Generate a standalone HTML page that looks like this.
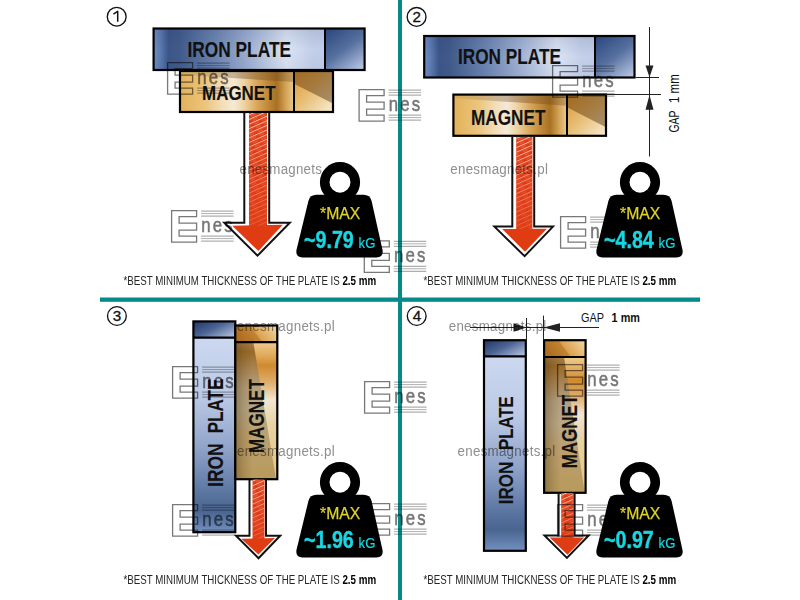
<!DOCTYPE html>
<html><head><meta charset="utf-8"><style>
html,body{margin:0;padding:0;background:#fff;width:800px;height:600px;overflow:hidden}
svg{display:block}
svg text{font-family:"Liberation Sans", sans-serif}
</style></head><body>
<svg width="800" height="600" viewBox="0 0 800 600">
<defs>
<linearGradient id="ipH" x1="0" y1="0" x2="1" y2="0">
<stop offset="0" stop-color="#7090c8"/><stop offset="0.035" stop-color="#5a78ae"/><stop offset="0.07" stop-color="#3c5688"/><stop offset="0.12" stop-color="#405a8a"/>
<stop offset="0.3" stop-color="#6e86b2"/><stop offset="0.45" stop-color="#9eb0d2"/><stop offset="0.63" stop-color="#dce4f3"/><stop offset="0.75" stop-color="#c4d0ea"/><stop offset="1" stop-color="#b8c8e6"/>
</linearGradient>
<linearGradient id="ipHv" x1="0" y1="0" x2="0" y2="1">
<stop offset="0" stop-color="#203060" stop-opacity="0.12"/><stop offset="0.5" stop-color="#203060" stop-opacity="0"/><stop offset="1" stop-color="#203060" stop-opacity="0.05"/>
</linearGradient>
<linearGradient id="ipR" x1="0.15" y1="0" x2="0.85" y2="1">
<stop offset="0" stop-color="#2e4a80"/><stop offset="0.5" stop-color="#56709f"/><stop offset="1" stop-color="#b4c2e0"/>
</linearGradient>
<linearGradient id="mgH" x1="0" y1="0" x2="1" y2="0">
<stop offset="0" stop-color="#e2b25a"/><stop offset="0.22" stop-color="#ecc47c"/><stop offset="0.36" stop-color="#f2dcb4"/><stop offset="0.47" stop-color="#f6ead6"/>
<stop offset="0.56" stop-color="#eed4a4"/><stop offset="0.66" stop-color="#dcac60"/><stop offset="0.76" stop-color="#c48c3c"/><stop offset="0.85" stop-color="#a87022"/><stop offset="0.93" stop-color="#d4a458"/><stop offset="1" stop-color="#e8ca8c"/>
</linearGradient>
<linearGradient id="mgBand" x1="0" y1="0" x2="1" y2="0">
<stop offset="0" stop-color="#705030" stop-opacity="0.08"/><stop offset="0.55" stop-color="#604020" stop-opacity="0.38"/><stop offset="1" stop-color="#604018" stop-opacity="0.3"/>
</linearGradient>
<linearGradient id="mgRl" x1="0" y1="0" x2="1" y2="1">
<stop offset="0" stop-color="#d89838"/><stop offset="0.5" stop-color="#e8c078"/><stop offset="1" stop-color="#f8ecd4"/>
</linearGradient>
<linearGradient id="mgRu" x1="0" y1="0" x2="1" y2="1">
<stop offset="0" stop-color="#a46a20"/><stop offset="0.5" stop-color="#a47c40"/><stop offset="1" stop-color="#a89070"/>
</linearGradient>
<linearGradient id="ipV" x1="0" y1="0" x2="0" y2="1">
<stop offset="0" stop-color="#d0dcf2"/><stop offset="0.35" stop-color="#bccae6"/><stop offset="0.6" stop-color="#90a4ca"/>
<stop offset="0.8" stop-color="#5e78a4"/><stop offset="0.9" stop-color="#48648f"/><stop offset="1" stop-color="#7490c0"/>
</linearGradient>
<linearGradient id="ipT" x1="0" y1="0.1" x2="1" y2="0.9">
<stop offset="0" stop-color="#233a6a"/><stop offset="0.45" stop-color="#4c6494"/><stop offset="1" stop-color="#b4c2e0"/>
</linearGradient>
<linearGradient id="mgVL" x1="0" y1="0" x2="0" y2="1">
<stop offset="0" stop-color="#b09a74"/><stop offset="0.1" stop-color="#a88050"/><stop offset="0.17" stop-color="#9a6a28"/><stop offset="0.28" stop-color="#a88452"/>
<stop offset="0.4" stop-color="#b4a080"/><stop offset="0.55" stop-color="#b8a888"/><stop offset="0.7" stop-color="#bca070"/><stop offset="1" stop-color="#b89a5c"/>
</linearGradient>
<linearGradient id="mgVR" x1="0" y1="0" x2="0" y2="1">
<stop offset="0" stop-color="#f0cc90"/><stop offset="0.1" stop-color="#e0a858"/><stop offset="0.17" stop-color="#d08a30"/><stop offset="0.3" stop-color="#e0b070"/>
<stop offset="0.42" stop-color="#f2e6d0"/><stop offset="0.6" stop-color="#e8d2a4"/><stop offset="1" stop-color="#e2c684"/>
</linearGradient>
<linearGradient id="mgVh" x1="0" y1="0" x2="1" y2="0">
<stop offset="0" stop-color="#463008" stop-opacity="0.35"/><stop offset="0.2" stop-color="#463008" stop-opacity="0.15"/><stop offset="0.4" stop-color="#463008" stop-opacity="0"/>
</linearGradient>
<linearGradient id="mgT" x1="0" y1="0.3" x2="1" y2="0">
<stop offset="0" stop-color="#b06e22"/><stop offset="0.38" stop-color="#c28432"/><stop offset="0.42" stop-color="#dca24e"/><stop offset="0.75" stop-color="#e8c080"/><stop offset="1" stop-color="#f2dcb0"/>
</linearGradient>
<pattern id="hatch" patternUnits="userSpaceOnUse" width="9" height="4.2" patternTransform="rotate(-24)">
<rect x="0" y="0" width="9" height="1.0" fill="#ffe4da" fill-opacity="0.8"/><rect x="2" y="2.3" width="5" height="0.6" fill="#ffe4da" fill-opacity="0.45"/>
</pattern>
<linearGradient id="hfade" x1="0" y1="0" x2="0" y2="1">
<stop offset="0" stop-color="#fff"/><stop offset="0.45" stop-color="#fff" stop-opacity="0.65"/><stop offset="1" stop-color="#fff" stop-opacity="0.25"/>
</linearGradient>
</defs>
<rect x="0" y="0" width="800" height="600" fill="#fff"/>
<rect x="398" y="0" width="4" height="600" fill="#058a8a"/>
<rect x="100" y="297.5" width="600" height="4.3" fill="#058a8a"/>
<rect x="153.6" y="28.5" width="211.00000000000003" height="41.5" fill="url(#ipH)"/>
<rect x="153.6" y="28.5" width="211.00000000000003" height="41.5" fill="url(#ipHv)"/>
<rect x="325" y="28.5" width="39.60000000000002" height="41.5" fill="url(#ipR)"/>
<rect x="153.6" y="28.5" width="211.00000000000003" height="41.5" fill="none" stroke="#000" stroke-width="2.2"/>
<line x1="325" y1="28.5" x2="325" y2="70" stroke="#000" stroke-width="2"/>
<text x="187.5" y="56.8" font-size="21.8" font-weight="bold" textLength="103.5" lengthAdjust="spacingAndGlyphs" fill="#111" stroke="#111" stroke-width="0.12">IRON PLATE</text>
<rect x="180" y="71" width="114" height="41" fill="url(#mgH)"/>
<path d="M180,71 L294,71 L294,82.07 L180,74.69 Z" fill="url(#mgBand)"/>
<rect x="294" y="71" width="39" height="41" fill="url(#mgRl)"/>
<path d="M294,71 L333,71 L333,103.39 L294,83.71 Z" fill="url(#mgRu)"/>
<rect x="180" y="71" width="153" height="41" fill="none" stroke="#000" stroke-width="2.2"/>
<line x1="294" y1="71" x2="294" y2="112" stroke="#000" stroke-width="2"/>
<text x="202" y="99.6" font-size="20.8" font-weight="bold" textLength="73.5" lengthAdjust="spacingAndGlyphs" fill="#111" stroke="#111" stroke-width="0.12">MAGNET</text>
<rect x="249" y="113" width="18" height="113.80000000000001" fill="#e03c14"/>
<path d="M232.2,225.8 L282.8,224.8 L258.4,251 Z" fill="#e03c14"/>
<rect x="249" y="113" width="18" height="112.80000000000001" fill="url(#hatch)" mask="url(#hm1)"/>
<mask id="hm1" maskUnits="userSpaceOnUse"><rect x="249" y="113" width="18" height="112.80000000000001" fill="url(#hfade)"/></mask>
<path d="M244.3,113 L244.3,222.7 L224.3,222.7 L257.5,255.7 L289.8,222.7 L269.2,222.7 L269.2,113" fill="none" stroke="#111" stroke-width="2" stroke-linejoin="miter"/>
<circle cx="116.7" cy="16.7" r="9.4" fill="none" stroke="#111" stroke-width="1.35"/>
<path d="M113.4,14.1 L116.10000000000001,12.299999999999999 L117.7,11.299999999999999 L117.7,21.7" fill="none" stroke="#111" stroke-width="1.5" stroke-linejoin="round"/>
<rect x="424.2" y="36" width="210.3" height="41.5" fill="url(#ipH)"/>
<rect x="424.2" y="36" width="210.3" height="41.5" fill="url(#ipHv)"/>
<rect x="595" y="36" width="39.5" height="41.5" fill="url(#ipR)"/>
<rect x="424.2" y="36" width="210.3" height="41.5" fill="none" stroke="#000" stroke-width="2.2"/>
<line x1="595" y1="36" x2="595" y2="77.5" stroke="#000" stroke-width="2"/>
<text x="458" y="64.0" font-size="21.8" font-weight="bold" textLength="103" lengthAdjust="spacingAndGlyphs" fill="#111" stroke="#111" stroke-width="0.12">IRON PLATE</text>
<rect x="453.4" y="94.6" width="113.60000000000002" height="41.20000000000002" fill="url(#mgH)"/>
<path d="M453.4,94.6 L567,94.6 L567,105.724 L453.4,98.30799999999999 Z" fill="url(#mgBand)"/>
<rect x="567" y="94.6" width="39" height="41.20000000000002" fill="url(#mgRl)"/>
<path d="M567,94.6 L606,94.6 L606,127.14800000000001 L567,107.372 Z" fill="url(#mgRu)"/>
<rect x="453.4" y="94.6" width="152.60000000000002" height="41.20000000000002" fill="none" stroke="#000" stroke-width="2.2"/>
<line x1="567" y1="94.6" x2="567" y2="135.8" stroke="#000" stroke-width="2"/>
<text x="471" y="124.9" font-size="22.3" font-weight="bold" textLength="74.5" lengthAdjust="spacingAndGlyphs" fill="#111" stroke="#111" stroke-width="0.12">MAGNET</text>
<rect x="516.2" y="137" width="16.199999999999932" height="93" fill="#e03c14"/>
<path d="M502.2,229 L546.9,228.8 L525,251.7 Z" fill="#e03c14"/>
<rect x="516.2" y="137" width="16.199999999999932" height="92" fill="url(#hatch)" mask="url(#hm2)"/>
<mask id="hm2" maskUnits="userSpaceOnUse"><rect x="516.2" y="137" width="16.199999999999932" height="92" fill="url(#hfade)"/></mask>
<path d="M512.3,137 L512.3,226.6 L494.4,226.6 L524.6,256.1 L553,226.6 L534.2,226.6 L534.2,137" fill="none" stroke="#111" stroke-width="2" stroke-linejoin="miter"/>
<circle cx="416.6" cy="16.9" r="9.4" fill="none" stroke="#111" stroke-width="1.35"/>
<text x="416.8" y="21.599999999999998" font-size="15.2" text-anchor="middle" fill="#111" stroke="#111" stroke-width="0.3">2</text>
<g stroke="#222" stroke-width="1">
<line x1="649.5" y1="27" x2="649.5" y2="156.5"/>
<line x1="635.5" y1="77.5" x2="659" y2="77.5"/>
<line x1="606" y1="94.5" x2="661" y2="94.5"/>
</g>
<path d="M645.5,65.5 L653.5,65.5 L649.5,77.3 Z" fill="#222"/>
<path d="M645.5,109.8 L653.5,109.8 L649.5,95 Z" fill="#222"/>
<text transform="translate(678.6,132.5) rotate(-90)" font-size="14" fill="#111"><tspan textLength="22" lengthAdjust="spacingAndGlyphs">GAP</tspan><tspan x="29.5" textLength="28.8" lengthAdjust="spacingAndGlyphs">1 mm</tspan></text>
<rect x="193.4" y="321.4" width="41.900000000000006" height="210.80000000000007" fill="url(#ipV)"/>
<rect x="193.4" y="321.4" width="41.900000000000006" height="16.30000000000001" fill="url(#ipT)"/>
<rect x="193.4" y="321.4" width="41.900000000000006" height="210.80000000000007" fill="none" stroke="#000" stroke-width="2.2"/>
<line x1="193.4" y1="337.7" x2="235.3" y2="337.7" stroke="#000" stroke-width="2.2"/>
<text transform="translate(222.6,486.9) rotate(-90)" font-size="21.6" font-weight="bold" textLength="43.4" lengthAdjust="spacingAndGlyphs" fill="#111" stroke="#111" stroke-width="0.12">IRON</text>
<text transform="translate(222.6,433.3) rotate(-90)" font-size="21.6" font-weight="bold" textLength="54.6" lengthAdjust="spacingAndGlyphs" fill="#111" stroke="#111" stroke-width="0.12">PLATE</text>
<rect x="235.3" y="325.5" width="42.0" height="153.7" fill="url(#mgVL)"/>
<rect x="235.3" y="325.5" width="42.0" height="153.7" fill="url(#mgVh)"/>
<path d="M253.36,342.2 L277.3,342.2 L277.3,479.2 L276.04,479.2 Z" fill="url(#mgVR)"/>
<rect x="235.3" y="325.5" width="42.0" height="16.69999999999999" fill="url(#mgT)"/>
<rect x="235.3" y="325.5" width="42.0" height="153.7" fill="none" stroke="#000" stroke-width="2.2"/>
<line x1="235.3" y1="342.2" x2="277.3" y2="342.2" stroke="#000" stroke-width="2.2"/>
<text transform="translate(264.4,453.1) rotate(-90)" font-size="21.2" font-weight="bold" textLength="73.9" lengthAdjust="spacingAndGlyphs" fill="#111" stroke="#111" stroke-width="0.12">MAGNET</text>
<rect x="252.5" y="479.4" width="12.0" height="60.30000000000007" fill="#e03c14"/>
<path d="M241.2,538.7 L275,538 L258.5,554.5 Z" fill="#e03c14"/>
<rect x="252.5" y="479.4" width="12.0" height="59.30000000000007" fill="url(#hatch)" mask="url(#hm3)"/>
<mask id="hm3" maskUnits="userSpaceOnUse"><rect x="252.5" y="479.4" width="12.0" height="59.30000000000007" fill="url(#hfade)"/></mask>
<path d="M249.5,479.4 L249.5,535.7 L236,535.7 L258.5,558.2 L280.2,535.7 L266,535.7 L266,479.4" fill="none" stroke="#111" stroke-width="2" stroke-linejoin="miter"/>
<circle cx="116.9" cy="316.0" r="9.4" fill="none" stroke="#111" stroke-width="1.35"/>
<text x="117.10000000000001" y="320.7" font-size="15.2" text-anchor="middle" fill="#111" stroke="#111" stroke-width="0.3">3</text>
<rect x="484" y="340.2" width="41.799999999999955" height="210.59999999999997" fill="url(#ipV)"/>
<rect x="484" y="340.2" width="41.799999999999955" height="16.100000000000023" fill="url(#ipT)"/>
<rect x="484" y="340.2" width="41.799999999999955" height="210.59999999999997" fill="none" stroke="#000" stroke-width="2.2"/>
<line x1="484" y1="356.3" x2="525.8" y2="356.3" stroke="#000" stroke-width="2.2"/>
<text transform="translate(513.1,504.3) rotate(-90)" font-size="21" font-weight="bold" textLength="42.6" lengthAdjust="spacingAndGlyphs" fill="#111" stroke="#111" stroke-width="0.12">IRON</text>
<text transform="translate(513.1,450.0) rotate(-90)" font-size="21" font-weight="bold" textLength="53.8" lengthAdjust="spacingAndGlyphs" fill="#111" stroke="#111" stroke-width="0.12">PLATE</text>
<rect x="544.1" y="340.2" width="41.5" height="152.60000000000002" fill="url(#mgVL)"/>
<rect x="544.1" y="340.2" width="41.5" height="152.60000000000002" fill="url(#mgVh)"/>
<path d="M564.02,357.0 L585.6,357.0 L585.6,492.8 L584.77,492.8 Z" fill="url(#mgVR)"/>
<rect x="544.1" y="340.2" width="41.5" height="16.80000000000001" fill="url(#mgT)"/>
<rect x="544.1" y="340.2" width="41.5" height="152.60000000000002" fill="none" stroke="#000" stroke-width="2.2"/>
<line x1="544.1" y1="357.0" x2="585.6" y2="357.0" stroke="#000" stroke-width="2.2"/>
<text transform="translate(576.8,468.3) rotate(-90)" font-size="21.2" font-weight="bold" textLength="73.5" lengthAdjust="spacingAndGlyphs" fill="#111" stroke="#111" stroke-width="0.12">MAGNET</text>
<rect x="561.2" y="493" width="12.399999999999977" height="45.39999999999998" fill="#e03c14"/>
<path d="M549.6,537.4 L584.2,537.4 L567.5,554.7 Z" fill="#e03c14"/>
<rect x="561.2" y="493" width="12.399999999999977" height="44.39999999999998" fill="url(#hatch)" mask="url(#hm4)"/>
<mask id="hm4" maskUnits="userSpaceOnUse"><rect x="561.2" y="493" width="12.399999999999977" height="44.39999999999998" fill="url(#hfade)"/></mask>
<path d="M558.6,493 L558.6,535.4 L544.5,535.4 L566.9,557.9 L588.7,535.4 L574.6,535.4 L574.6,493" fill="none" stroke="#111" stroke-width="2" stroke-linejoin="miter"/>
<circle cx="416.7" cy="316.0" r="9.4" fill="none" stroke="#111" stroke-width="1.35"/>
<text x="416.9" y="320.7" font-size="15.2" text-anchor="middle" fill="#111" stroke="#111" stroke-width="0.3">4</text>
<g stroke="#222" stroke-width="1">
<line x1="526.5" y1="318" x2="526.5" y2="340"/>
<line x1="543.5" y1="315.6" x2="543.5" y2="340"/>
<line x1="470" y1="327.5" x2="599" y2="327.5"/>
</g>
<path d="M513.5,323.3 L513.5,331.7 L526.5,327.5 Z" fill="#222"/>
<path d="M560,323.3 L560,331.7 L543.5,327.5 Z" fill="#222"/>
<text x="581" y="321.6" font-size="12" fill="#111"><tspan textLength="23" lengthAdjust="spacingAndGlyphs">GAP</tspan><tspan x="611.6" font-weight="bold" textLength="28.4" lengthAdjust="spacingAndGlyphs">1 mm</tspan></text>
<g style="mix-blend-mode:multiply"><g transform="translate(167.60,62.60)">
<path d="M0,0 H25 V6 H7.5 V12.5 H25 V19.5 H7.5 V25.5 H25 V31.5 H0 Z" fill="none" stroke="#787878" stroke-width="1.3"/>
<path d="M29.5,0.5 H62 M29.5,5.5 H62 M29.5,25.5 H62 M29.5,30.5 H62" stroke="#9a9a9a" stroke-width="1"/>
<path d="M29.5,3 H62 M29.5,28 H62" stroke="#b0b0b0" stroke-width="1"/>
<g fill="#767676" font-size="21" stroke="#767676" stroke-width="0.55">
<text transform="translate(29.6,21) scale(0.8,1)">n</text>
<text transform="translate(41.2,21) scale(0.8,1)">e</text>
<text transform="translate(52.6,21) scale(0.8,1)">s</text>
</g>
</g>
<g transform="translate(359.10,89.60)">
<path d="M0,0 H25 V6 H7.5 V12.5 H25 V19.5 H7.5 V25.5 H25 V31.5 H0 Z" fill="none" stroke="#787878" stroke-width="1.3"/>
<path d="M29.5,0.5 H62 M29.5,5.5 H62 M29.5,25.5 H62 M29.5,30.5 H62" stroke="#9a9a9a" stroke-width="1"/>
<path d="M29.5,3 H62 M29.5,28 H62" stroke="#b0b0b0" stroke-width="1"/>
<g fill="#767676" font-size="21" stroke="#767676" stroke-width="0.55">
<text transform="translate(29.6,21) scale(0.8,1)">n</text>
<text transform="translate(41.2,21) scale(0.8,1)">e</text>
<text transform="translate(52.6,21) scale(0.8,1)">s</text>
</g>
</g>
<g transform="translate(552.60,65.60)">
<path d="M0,0 H25 V6 H7.5 V12.5 H25 V19.5 H7.5 V25.5 H25 V31.5 H0 Z" fill="none" stroke="#787878" stroke-width="1.3"/>
<path d="M29.5,0.5 H62 M29.5,5.5 H62 M29.5,25.5 H62 M29.5,30.5 H62" stroke="#9a9a9a" stroke-width="1"/>
<path d="M29.5,3 H62 M29.5,28 H62" stroke="#b0b0b0" stroke-width="1"/>
<g fill="#767676" font-size="21" stroke="#767676" stroke-width="0.55">
<text transform="translate(29.6,21) scale(0.8,1)">n</text>
<text transform="translate(41.2,21) scale(0.8,1)">e</text>
<text transform="translate(52.6,21) scale(0.8,1)">s</text>
</g>
</g>
<g transform="translate(171.60,210.60)">
<path d="M0,0 H25 V6 H7.5 V12.5 H25 V19.5 H7.5 V25.5 H25 V31.5 H0 Z" fill="none" stroke="#787878" stroke-width="1.3"/>
<path d="M29.5,0.5 H62 M29.5,5.5 H62 M29.5,25.5 H62 M29.5,30.5 H62" stroke="#9a9a9a" stroke-width="1"/>
<path d="M29.5,3 H62 M29.5,28 H62" stroke="#b0b0b0" stroke-width="1"/>
<g fill="#767676" font-size="21" stroke="#767676" stroke-width="0.55">
<text transform="translate(29.6,21) scale(0.8,1)">n</text>
<text transform="translate(41.2,21) scale(0.8,1)">e</text>
<text transform="translate(52.6,21) scale(0.8,1)">s</text>
</g>
</g>
<g transform="translate(364.30,240.80)">
<path d="M0,0 H25 V6 H7.5 V12.5 H25 V19.5 H7.5 V25.5 H25 V31.5 H0 Z" fill="none" stroke="#787878" stroke-width="1.3"/>
<path d="M29.5,0.5 H62 M29.5,5.5 H62 M29.5,25.5 H62 M29.5,30.5 H62" stroke="#9a9a9a" stroke-width="1"/>
<path d="M29.5,3 H62 M29.5,28 H62" stroke="#b0b0b0" stroke-width="1"/>
<g fill="#767676" font-size="21" stroke="#767676" stroke-width="0.55">
<text transform="translate(29.6,21) scale(0.8,1)">n</text>
<text transform="translate(41.2,21) scale(0.8,1)">e</text>
<text transform="translate(52.6,21) scale(0.8,1)">s</text>
</g>
</g>
<g transform="translate(560.60,216.60)">
<path d="M0,0 H25 V6 H7.5 V12.5 H25 V19.5 H7.5 V25.5 H25 V31.5 H0 Z" fill="none" stroke="#787878" stroke-width="1.3"/>
<path d="M29.5,0.5 H62 M29.5,5.5 H62 M29.5,25.5 H62 M29.5,30.5 H62" stroke="#9a9a9a" stroke-width="1"/>
<path d="M29.5,3 H62 M29.5,28 H62" stroke="#b0b0b0" stroke-width="1"/>
<g fill="#767676" font-size="21" stroke="#767676" stroke-width="0.55">
<text transform="translate(29.6,21) scale(0.8,1)">n</text>
<text transform="translate(41.2,21) scale(0.8,1)">e</text>
<text transform="translate(52.6,21) scale(0.8,1)">s</text>
</g>
</g>
<g transform="translate(172.60,366.60)">
<path d="M0,0 H25 V6 H7.5 V12.5 H25 V19.5 H7.5 V25.5 H25 V31.5 H0 Z" fill="none" stroke="#787878" stroke-width="1.3"/>
<path d="M29.5,0.5 H62 M29.5,5.5 H62 M29.5,25.5 H62 M29.5,30.5 H62" stroke="#9a9a9a" stroke-width="1"/>
<path d="M29.5,3 H62 M29.5,28 H62" stroke="#b0b0b0" stroke-width="1"/>
<g fill="#767676" font-size="21" stroke="#767676" stroke-width="0.55">
<text transform="translate(29.6,21) scale(0.8,1)">n</text>
<text transform="translate(41.2,21) scale(0.8,1)">e</text>
<text transform="translate(52.6,21) scale(0.8,1)">s</text>
</g>
</g>
<g transform="translate(364.60,381.60)">
<path d="M0,0 H25 V6 H7.5 V12.5 H25 V19.5 H7.5 V25.5 H25 V31.5 H0 Z" fill="none" stroke="#787878" stroke-width="1.3"/>
<path d="M29.5,0.5 H62 M29.5,5.5 H62 M29.5,25.5 H62 M29.5,30.5 H62" stroke="#9a9a9a" stroke-width="1"/>
<path d="M29.5,3 H62 M29.5,28 H62" stroke="#b0b0b0" stroke-width="1"/>
<g fill="#767676" font-size="21" stroke="#767676" stroke-width="0.55">
<text transform="translate(29.6,21) scale(0.8,1)">n</text>
<text transform="translate(41.2,21) scale(0.8,1)">e</text>
<text transform="translate(52.6,21) scale(0.8,1)">s</text>
</g>
</g>
<g transform="translate(172.60,504.60)">
<path d="M0,0 H25 V6 H7.5 V12.5 H25 V19.5 H7.5 V25.5 H25 V31.5 H0 Z" fill="none" stroke="#787878" stroke-width="1.3"/>
<path d="M29.5,0.5 H62 M29.5,5.5 H62 M29.5,25.5 H62 M29.5,30.5 H62" stroke="#9a9a9a" stroke-width="1"/>
<path d="M29.5,3 H62 M29.5,28 H62" stroke="#b0b0b0" stroke-width="1"/>
<g fill="#767676" font-size="21" stroke="#767676" stroke-width="0.55">
<text transform="translate(29.6,21) scale(0.8,1)">n</text>
<text transform="translate(41.2,21) scale(0.8,1)">e</text>
<text transform="translate(52.6,21) scale(0.8,1)">s</text>
</g>
</g>
<g transform="translate(364.60,503.60)">
<path d="M0,0 H25 V6 H7.5 V12.5 H25 V19.5 H7.5 V25.5 H25 V31.5 H0 Z" fill="none" stroke="#787878" stroke-width="1.3"/>
<path d="M29.5,0.5 H62 M29.5,5.5 H62 M29.5,25.5 H62 M29.5,30.5 H62" stroke="#9a9a9a" stroke-width="1"/>
<path d="M29.5,3 H62 M29.5,28 H62" stroke="#b0b0b0" stroke-width="1"/>
<g fill="#767676" font-size="21" stroke="#767676" stroke-width="0.55">
<text transform="translate(29.6,21) scale(0.8,1)">n</text>
<text transform="translate(41.2,21) scale(0.8,1)">e</text>
<text transform="translate(52.6,21) scale(0.8,1)">s</text>
</g>
</g>
<g transform="translate(557.60,364.60)">
<path d="M0,0 H25 V6 H7.5 V12.5 H25 V19.5 H7.5 V25.5 H25 V31.5 H0 Z" fill="none" stroke="#787878" stroke-width="1.3"/>
<path d="M29.5,0.5 H62 M29.5,5.5 H62 M29.5,25.5 H62 M29.5,30.5 H62" stroke="#9a9a9a" stroke-width="1"/>
<path d="M29.5,3 H62 M29.5,28 H62" stroke="#b0b0b0" stroke-width="1"/>
<g fill="#767676" font-size="21" stroke="#767676" stroke-width="0.55">
<text transform="translate(29.6,21) scale(0.8,1)">n</text>
<text transform="translate(41.2,21) scale(0.8,1)">e</text>
<text transform="translate(52.6,21) scale(0.8,1)">s</text>
</g>
</g>
<g transform="translate(557.60,504.60)">
<path d="M0,0 H25 V6 H7.5 V12.5 H25 V19.5 H7.5 V25.5 H25 V31.5 H0 Z" fill="none" stroke="#787878" stroke-width="1.3"/>
<path d="M29.5,0.5 H62 M29.5,5.5 H62 M29.5,25.5 H62 M29.5,30.5 H62" stroke="#9a9a9a" stroke-width="1"/>
<path d="M29.5,3 H62 M29.5,28 H62" stroke="#b0b0b0" stroke-width="1"/>
<g fill="#767676" font-size="21" stroke="#767676" stroke-width="0.55">
<text transform="translate(29.6,21) scale(0.8,1)">n</text>
<text transform="translate(41.2,21) scale(0.8,1)">e</text>
<text transform="translate(52.6,21) scale(0.8,1)">s</text>
</g>
</g>
<text transform="translate(239.5,173.6) scale(0.86,1)" font-size="15.5" textLength="95.70" lengthAdjust="spacing" fill="#8e8e8e">enesmagnets</text>
<text transform="translate(450.3,174.0) scale(0.86,1)" font-size="15.5" textLength="113.49" lengthAdjust="spacing" fill="#8e8e8e">enesmagnets.pl</text>
<text transform="translate(237,330.8) scale(0.86,1)" font-size="15.5" textLength="113.49" lengthAdjust="spacing" fill="#8e8e8e">enesmagnets.pl</text>
<text transform="translate(448.7,330.8) scale(0.86,1)" font-size="15.5" textLength="113.49" lengthAdjust="spacing" fill="#8e8e8e">enesmagnets.pl</text>
<text transform="translate(237,456.2) scale(0.86,1)" font-size="15.5" textLength="113.49" lengthAdjust="spacing" fill="#8e8e8e">enesmagnets.pl</text>
<text transform="translate(457.6,456.2) scale(0.86,1)" font-size="15.5" textLength="113.49" lengthAdjust="spacing" fill="#8e8e8e">enesmagnets.pl</text></g>
<g transform="translate(0,0)">
<circle cx="340" cy="182.2" r="15.3" fill="none" stroke="#000" stroke-width="9.6"/>
<path d="M316.5,194.8 L363.5,194.8 Q370,194.8 371.6,201 L382.4,249.5 Q384,257.5 376.5,257.5 L302.5,257.5 Q295,257.5 296.6,249.5 L308.4,201 Q310,194.8 316.5,194.8 Z" fill="#000"/>
<text x="320" y="218.8" font-size="17.3" textLength="40.3" lengthAdjust="spacingAndGlyphs" fill="#e0d428" stroke="#e0d428" stroke-width="0.25">*MAX</text>
<text x="304" y="247.8" font-size="24" font-weight="bold" textLength="49.8" lengthAdjust="spacingAndGlyphs" fill="#18d6e2" stroke="#18d6e2" stroke-width="0.4">~9.79</text>
<text x="358.6" y="247.8" font-size="15" textLength="16.8" lengthAdjust="spacingAndGlyphs" fill="#18d6e2" stroke="#18d6e2" stroke-width="0.2">kG</text>
</g>
<g transform="translate(300,0)">
<circle cx="340" cy="182.2" r="15.3" fill="none" stroke="#000" stroke-width="9.6"/>
<path d="M316.5,194.8 L363.5,194.8 Q370,194.8 371.6,201 L382.4,249.5 Q384,257.5 376.5,257.5 L302.5,257.5 Q295,257.5 296.6,249.5 L308.4,201 Q310,194.8 316.5,194.8 Z" fill="#000"/>
<text x="320" y="218.8" font-size="17.3" textLength="40.3" lengthAdjust="spacingAndGlyphs" fill="#e0d428" stroke="#e0d428" stroke-width="0.25">*MAX</text>
<text x="304" y="247.8" font-size="24" font-weight="bold" textLength="49.8" lengthAdjust="spacingAndGlyphs" fill="#18d6e2" stroke="#18d6e2" stroke-width="0.4">~4.84</text>
<text x="358.6" y="247.8" font-size="15" textLength="16.8" lengthAdjust="spacingAndGlyphs" fill="#18d6e2" stroke="#18d6e2" stroke-width="0.2">kG</text>
</g>
<g transform="translate(0,300)">
<circle cx="340" cy="182.2" r="15.3" fill="none" stroke="#000" stroke-width="9.6"/>
<path d="M316.5,194.8 L363.5,194.8 Q370,194.8 371.6,201 L382.4,249.5 Q384,257.5 376.5,257.5 L302.5,257.5 Q295,257.5 296.6,249.5 L308.4,201 Q310,194.8 316.5,194.8 Z" fill="#000"/>
<text x="320" y="218.8" font-size="17.3" textLength="40.3" lengthAdjust="spacingAndGlyphs" fill="#e0d428" stroke="#e0d428" stroke-width="0.25">*MAX</text>
<text x="304" y="247.8" font-size="24" font-weight="bold" textLength="49.8" lengthAdjust="spacingAndGlyphs" fill="#18d6e2" stroke="#18d6e2" stroke-width="0.4">~1.96</text>
<text x="358.6" y="247.8" font-size="15" textLength="16.8" lengthAdjust="spacingAndGlyphs" fill="#18d6e2" stroke="#18d6e2" stroke-width="0.2">kG</text>
</g>
<g transform="translate(300,300)">
<circle cx="340" cy="182.2" r="15.3" fill="none" stroke="#000" stroke-width="9.6"/>
<path d="M316.5,194.8 L363.5,194.8 Q370,194.8 371.6,201 L382.4,249.5 Q384,257.5 376.5,257.5 L302.5,257.5 Q295,257.5 296.6,249.5 L308.4,201 Q310,194.8 316.5,194.8 Z" fill="#000"/>
<text x="320" y="218.8" font-size="17.3" textLength="40.3" lengthAdjust="spacingAndGlyphs" fill="#e0d428" stroke="#e0d428" stroke-width="0.25">*MAX</text>
<text x="304" y="247.8" font-size="24" font-weight="bold" textLength="49.8" lengthAdjust="spacingAndGlyphs" fill="#18d6e2" stroke="#18d6e2" stroke-width="0.4">~0.97</text>
<text x="358.6" y="247.8" font-size="15" textLength="16.8" lengthAdjust="spacingAndGlyphs" fill="#18d6e2" stroke="#18d6e2" stroke-width="0.2">kG</text>
</g>
<text x="123.5" y="284.6" font-size="12.6" fill="#262626"><tspan textLength="216.3" lengthAdjust="spacingAndGlyphs">*BEST MINIMUM THICKNESS OF THE PLATE IS</tspan><tspan x="342.4" font-weight="bold" fill="#000" textLength="33.8" lengthAdjust="spacingAndGlyphs">2.5 mm</tspan></text>
<text x="423.5" y="284.6" font-size="12.6" fill="#262626"><tspan textLength="216.3" lengthAdjust="spacingAndGlyphs">*BEST MINIMUM THICKNESS OF THE PLATE IS</tspan><tspan x="642.4" font-weight="bold" fill="#000" textLength="33.8" lengthAdjust="spacingAndGlyphs">2.5 mm</tspan></text>
<text x="123.5" y="584.1" font-size="12.6" fill="#262626"><tspan textLength="216.3" lengthAdjust="spacingAndGlyphs">*BEST MINIMUM THICKNESS OF THE PLATE IS</tspan><tspan x="342.4" font-weight="bold" fill="#000" textLength="33.8" lengthAdjust="spacingAndGlyphs">2.5 mm</tspan></text>
<text x="423.5" y="584.1" font-size="12.6" fill="#262626"><tspan textLength="216.3" lengthAdjust="spacingAndGlyphs">*BEST MINIMUM THICKNESS OF THE PLATE IS</tspan><tspan x="642.4" font-weight="bold" fill="#000" textLength="33.8" lengthAdjust="spacingAndGlyphs">2.5 mm</tspan></text>
</svg>
</body></html>
